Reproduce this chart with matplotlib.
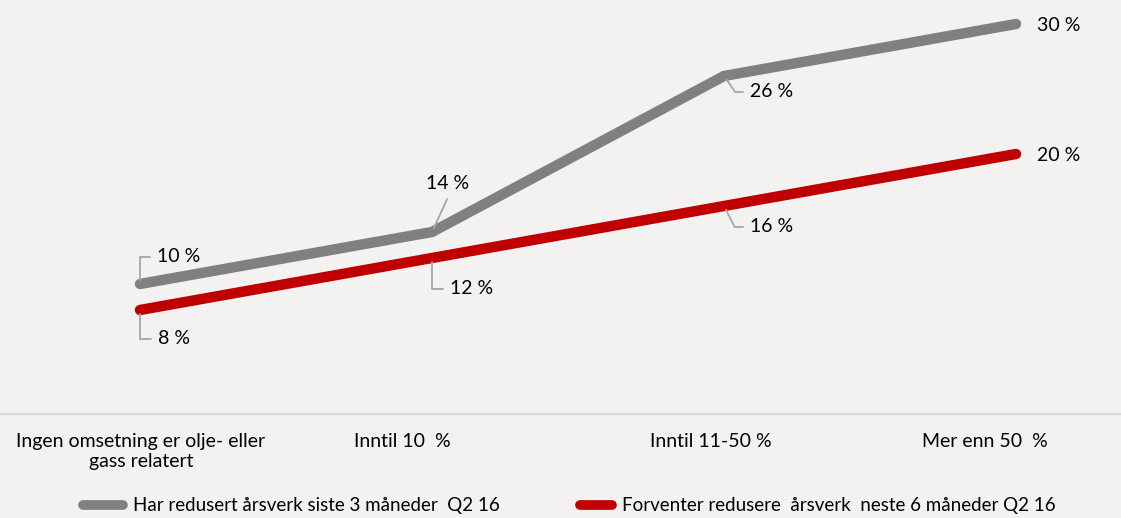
import matplotlib.pyplot as plt
import numpy as np

categories = ['Ingen omsetning er olje- eller\ngass relatert', 'Inntil 10  %',
              'Inntil 11-50 %', 'Mer enn 50  %']
har_redusert = [10, 14, 26, 30]
forventer = [8, 12, 16, 20]
series_names = ['Har redusert årsverk siste 3 måneder  Q2 16',
                'Forventer redusere  årsverk  neste 6 måneder Q2 16']

bg = '#F3F2F1'
grey = '#808080'
red = '#C00000'
leader = '#A6A6A6'

plt.rcParams['font.family'] = ['Lato', 'DejaVu Sans']
plt.rcParams['font.size'] = 14

fig = plt.figure(figsize=(11.21, 5.18), dpi=100, facecolor=bg)
ax = fig.add_axes([0, 0.2008, 1, 0.7992], facecolor=bg)

x = np.arange(len(categories))
l1, = ax.plot(x, har_redusert, color=grey, lw=7.5, solid_capstyle='round',
              solid_joinstyle='miter', label=series_names[0], zorder=3)
l2, = ax.plot(x, forventer, color=red, lw=7.5, solid_capstyle='round',
              solid_joinstyle='miter', label=series_names[1], zorder=3)

ax.set_xlim(-140 / 292, 3 + 105 / 292)
ax.set_ylim(0, 414 / 13)
ax.set_yticks([])
ax.set_xticks([])
for s in ['top', 'left', 'right']:
    ax.spines[s].set_visible(False)
ax.spines['bottom'].set_color('#D9D9D9')
ax.spines['bottom'].set_linewidth(1.5)

# category labels are placed on their own pixel-wide axis
ax2 = ax.twiny()
ax2.set_xlim(0, 1121)
ax2.xaxis.set_ticks_position('bottom')
ax2.set_xticks([141, 402, 711, 985])
ax2.set_xticklabels(categories, fontsize=14)
ax2.tick_params(length=0, pad=14)
for s in ax2.spines.values():
    s.set_visible(False)


def label(xi, yi, dx, dy, text, style=None, ha='left', relpos=(0, 0.5)):
    arrow = None
    if style is not None:
        arrow = dict(arrowstyle='-', color=leader, lw=1.3, shrinkA=3, shrinkB=3,
                     connectionstyle=style, relpos=relpos)
    ax.annotate(text, (xi, yi), xytext=(dx, dy), textcoords='offset pixels',
                ha=ha, va='center', fontsize=14, arrowprops=arrow, zorder=4)


fmt = '{} %'
label(x[0], har_redusert[0], 17, 27, fmt.format(har_redusert[0]), 'angle,angleA=0,angleB=90,rad=0')
label(x[1], har_redusert[1], 16, 48, fmt.format(har_redusert[1]), 'arc3,rad=0', ha='center', relpos=(0.55, 0))
label(x[2], har_redusert[2], 26, -16, fmt.format(har_redusert[2]), 'angle,angleA=0,angleB=-55,rad=0')
label(x[3], har_redusert[3], 21, -2, fmt.format(har_redusert[3]))

label(x[0], forventer[0], 18, -29, fmt.format(forventer[0]), 'angle,angleA=0,angleB=90,rad=0')
label(x[1], forventer[1], 18, -31, fmt.format(forventer[1]), 'angle,angleA=0,angleB=90,rad=0')
label(x[2], forventer[2], 26, -21, fmt.format(forventer[2]), 'angle,angleA=0,angleB=-63,rad=0')
label(x[3], forventer[3], 21, -2, fmt.format(forventer[3]))

# two separate legend entries, like the original
for line, x0, hl in [(l1, 83, 2.13), (l2, 580, 1.7)]:
    leg = fig.legend([line], [line.get_label()], loc='center left',
                     bbox_to_anchor=(x0 / 1121, 12 / 518), frameon=False,
                     fontsize=13.5, handlelength=hl, handletextpad=0.53,
                     borderpad=0, borderaxespad=0)
    for h in leg.get_lines():
        h.set_linewidth(7)

fig.savefig('out.png', dpi=100, facecolor=bg)
